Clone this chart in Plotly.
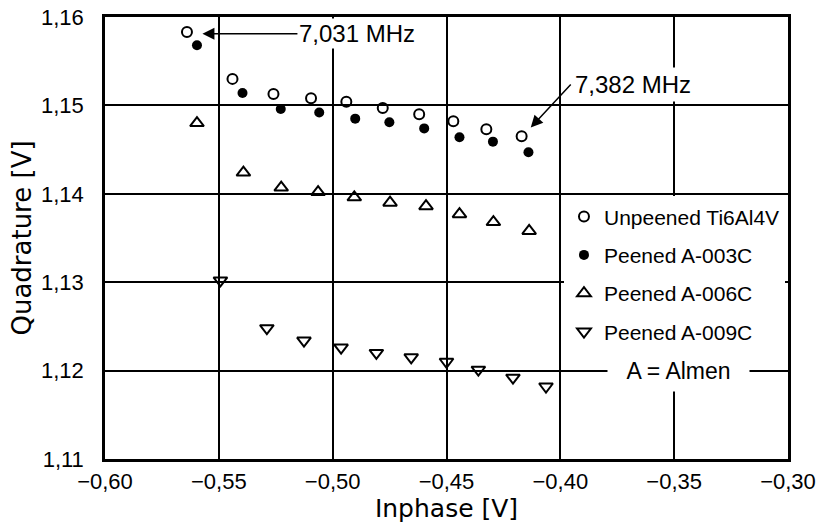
import plotly.graph_objects as go

# ---- data ----
series_names = ["Unpeened Ti6Al4V", "Peened A-003C", "Peened A-006C", "Peened A-009C"]

unpeened_x = [-0.564, -0.544, -0.526, -0.5095, -0.494, -0.478, -0.462, -0.447, -0.4325, -0.417]
unpeened_y = [1.1583, 1.1530, 1.1513, 1.1508, 1.1504, 1.1497, 1.1490, 1.1482, 1.1473, 1.1465]

a003_x = [-0.5596, -0.5396, -0.5228, -0.5059, -0.4901, -0.4751, -0.4598, -0.4443, -0.4296, -0.4140]
a003_y = [1.1568, 1.1514, 1.1496, 1.1492, 1.1485, 1.1481, 1.1474, 1.1464, 1.1459, 1.1447]

a006_x = [-0.5596, -0.5392, -0.5226, -0.5064, -0.4905, -0.4748, -0.4590, -0.4443, -0.4294, -0.4137]
a006_y = [1.1480, 1.1424, 1.1407, 1.1402, 1.1396, 1.1390, 1.1386, 1.1377, 1.1368, 1.1358]

a009_x = [-0.5493, -0.5289, -0.5126, -0.4963, -0.4808, -0.4655, -0.4500, -0.4360, -0.4208, -0.4063]
a009_y = [1.1302, 1.1248, 1.1234, 1.1226, 1.1220, 1.1215, 1.1210, 1.1201, 1.1192, 1.1182]

x_tickvals = [-0.60, -0.55, -0.50, -0.45, -0.40, -0.35, -0.30]
x_ticktext = ["\u22120,60", "\u22120,55", "\u22120,50", "\u22120,45", "\u22120,40", "\u22120,35", "\u22120,30"]
y_tickvals = [1.11, 1.12, 1.13, 1.14, 1.15, 1.16]
y_ticktext = ["1,11", "1,12", "1,13", "1,14", "1,15", "1,16"]

# annotated points (arrow targets)
f_low_label, f_low_x, f_low_y = "7,031 MHz", -0.5572, 1.1581
f_high_label, f_high_x, f_high_y = "7,382 MHz", -0.4130, 1.1475
almen_label, almen_x, almen_y = "A = Almen", -0.348, 1.12

FONT = "Liberation Sans, Arial, sans-serif"
TITLE_FONT = "DejaVu Sans, sans-serif"

fig = go.Figure()
styles = [
    dict(symbol="circle-open", size=10, line=dict(width=2, color="black"), color="black"),
    dict(symbol="circle", size=10, color="black"),
    dict(symbol="triangle-up-open", size=12, line=dict(width=2, color="black"), color="black"),
    dict(symbol="triangle-down-open", size=12, line=dict(width=2, color="black"), color="black"),
]
xs = [unpeened_x, a003_x, a006_x, a009_x]
ys = [unpeened_y, a003_y, a006_y, a009_y]
for i, (name, x, y, st) in enumerate(zip(series_names, xs, ys, styles)):
    fig.add_trace(go.Scatter(x=x, y=y, mode="markers", name=name, marker=st,
                             legendgroup=f"g{i}", showlegend=True))

fig.add_annotation(x=f_low_x, y=f_low_y, text=f_low_label, showarrow=True,
                   ax=95, ay=0, axref="pixel", ayref="pixel", xanchor="left", yanchor="middle",
                   arrowhead=2, arrowsize=1.6, arrowwidth=1.5, arrowcolor="black",
                   bgcolor="white", borderpad=1, font=dict(family=FONT, size=24, color="black"))
fig.add_annotation(x=f_high_x, y=f_high_y, text=f_high_label, showarrow=True,
                   ax=40, ay=-43, axref="pixel", ayref="pixel", xanchor="left", yanchor="middle",
                   arrowhead=2, arrowsize=1.6, arrowwidth=1.5, arrowcolor="black",
                   bgcolor="white", borderpad=3, font=dict(family=FONT, size=24, color="black"))
fig.add_annotation(x=almen_x, y=almen_y, text=almen_label, showarrow=False,
                   width=141, height=40, bgcolor="white", borderpad=0,
                   font=dict(family=FONT, size=23, color="black"))

axis_common = dict(showgrid=True, gridcolor="black", gridwidth=2, showline=True, linecolor="black",
                   linewidth=2.5, mirror=True, zeroline=False, ticks="", automargin=False,
                   tickfont=dict(family=FONT, size=22, color="black"))

fig.update_xaxes(range=[-0.60, -0.30], tickvals=x_tickvals, ticktext=x_ticktext,
                 ticklabelstandoff=1,
                 title=dict(text="Inphase [V]", font=dict(family=TITLE_FONT, size=25, color="black"), standoff=6),
                 **axis_common)
fig.update_yaxes(range=[1.11, 1.16], tickvals=y_tickvals, ticktext=y_ticktext,
                 ticklabelstandoff=14,
                 title=dict(text="Quadrature [V]", font=dict(family=TITLE_FONT, size=26, color="black"), standoff=2),
                 **axis_common)

fig.update_layout(
    width=819, height=525,
    margin=dict(l=105, r=31, t=17, b=66, autoexpand=False),
    paper_bgcolor="white", plot_bgcolor="white",
    showlegend=True,
    legend=dict(x=0.672, y=0.594, xanchor="left", yanchor="top", bgcolor="white",
                borderwidth=0, tracegroupgap=8, traceorder="grouped",
                font=dict(family=FONT, size=21, color="black")),
)

fig.write_html("out.html")
